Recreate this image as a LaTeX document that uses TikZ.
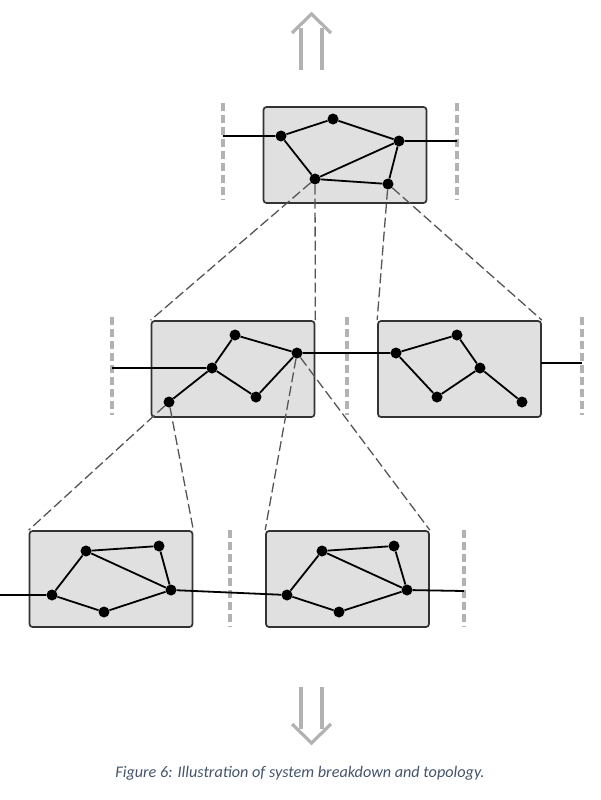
\documentclass[tikz,border=0pt]{standalone}
\usepackage{fontspec}
\newfontfamily\capfont{Carlito}
\definecolor{boxfill}{RGB}{224,224,224}
\definecolor{barcol}{RGB}{178,178,178}
\definecolor{zoomcol}{RGB}{85,85,85}
\definecolor{capcol}{RGB}{68,84,106}
\begin{document}
\begin{tikzpicture}[x=1pt,y=-1pt,
  sysbox/.style={draw=black!80,line width=1.7pt,fill=boxfill,rounded corners=3pt,
    minimum width=163pt,minimum height=96pt,inner sep=0pt},
  dot/.style={circle,fill=black,inner sep=0pt,minimum size=11pt},
  link/.style={line width=1.8pt},
  zoom/.style={zoomcol,line width=1.3pt,dash pattern=on 10pt off 4pt},
  bar/.style={barcol,line width=3.2pt,dash pattern=on 8pt off 4pt},
  flow/.style={barcol,line width=3.2pt}]
\useasboundingbox (0,0) rectangle (600,800);

% Boxes
\node[sysbox] (topbox) at (345,155) {};
\node[sysbox] (midA) at (233,369) {};
\node[sysbox] (midB) at (459.5,369) {};
\node[sysbox] (botA) at (111,579) {};
\node[sysbox] (botB) at (347.5,579) {};

% Boundaries
\draw[bar] (223,103) -- (223,200);
\draw[bar] (457,103) -- (457,200);
\draw[bar] (112,317) -- (112,415);
\draw[bar] (347,317) -- (347,415);
\draw[bar] (582,317) -- (582,415);
\draw[bar] (230,530) -- (230,627);
\draw[bar] (464,530) -- (464,627);

% Ports on the boundaries
\coordinate (topL) at (223,136);
\coordinate (topR) at (457,141);
\coordinate (midL) at (112,368);
\coordinate (midOut) at (541,363);
\coordinate (midR) at (582,363);
\coordinate (botL) at (0,595);
\coordinate (botR) at (464,591);

% Top level
\node[dot] (t1) at (281,136) {};
\node[dot] (t2) at (333,119) {};
\node[dot] (t3) at (399,141) {};
\node[dot] (t4) at (315,179) {};
\node[dot] (t5) at (388,184) {};

% Middle level
\node[dot] (u1) at (169,402) {};
\node[dot] (u2) at (212,368) {};
\node[dot] (u3) at (235,335) {};
\node[dot] (u4) at (297,353) {};
\node[dot] (u5) at (256,397) {};
\node[dot] (v1) at (396,353) {};
\node[dot] (v2) at (457,335) {};
\node[dot] (v3) at (480,368) {};
\node[dot] (v4) at (437,397) {};
\node[dot] (v5) at (522,402) {};

% Bottom level
\node[dot] (w1) at (52,595) {};
\node[dot] (w2) at (86,551) {};
\node[dot] (w3) at (159,546) {};
\node[dot] (w4) at (171,590) {};
\node[dot] (w5) at (104,612) {};
\node[dot] (z1) at (287,595) {};
\node[dot] (z2) at (322,551) {};
\node[dot] (z3) at (394,546) {};
\node[dot] (z4) at (407,590) {};
\node[dot] (z5) at (339,612) {};

% Links
\draw[link] (topL) -- (t1) -- (t2) -- (t3) -- (topR);
\draw[link] (t1) -- (t4) -- (t3);
\draw[link] (t4) -- (t5) -- (t3);
\draw[link] (midL) -- (u2) -- (u3) -- (u4) -- (v1) -- (v2) -- (v3) -- (v5);
\draw[link] (u1) -- (u2) -- (u5) -- (u4);
\draw[link] (v1) -- (v4) -- (v3);
\draw[link] (midOut) -- (midR);
\draw[link] (botL) -- (w1) -- (w2) -- (w3) -- (w4) -- (z1) -- (z2) -- (z3) -- (z4) -- (botR);
\draw[link] (w1) -- (w5) -- (w4) -- (w2);
\draw[link] (z1) -- (z5) -- (z4) -- (z2);

% Breakdown
\draw[zoom] (t4) -- (midA.north west);
\draw[zoom] (t4) -- (midA.north east);
\draw[zoom] (t5) -- (midB.north west);
\draw[zoom] (t5) -- (midB.north east);
\draw[zoom] (u1) -- (botA.north west);
\draw[zoom] (u1) -- (botA.north east);
\draw[zoom] (u4) -- (botB.north west);
\draw[zoom] (u4) -- (botB.north east);

% Arrows
\draw[flow] (301,70) -- (301,28) (322,70) -- (322,28);
\draw[flow,line join=miter] (292,33) -- (311.5,14) -- (331,33);
\draw[flow] (301,687) -- (301,729) (322,687) -- (322,729);
\draw[flow,line join=miter] (292,724) -- (311.5,743) -- (331,724);

% Caption
\node[capcol,font=\capfont\itshape\fontsize{16.2}{19}\selectfont] (cap) at (300,773)
  {Figure 6: Illustration of system breakdown and topology.};
\end{tikzpicture}
\end{document}
